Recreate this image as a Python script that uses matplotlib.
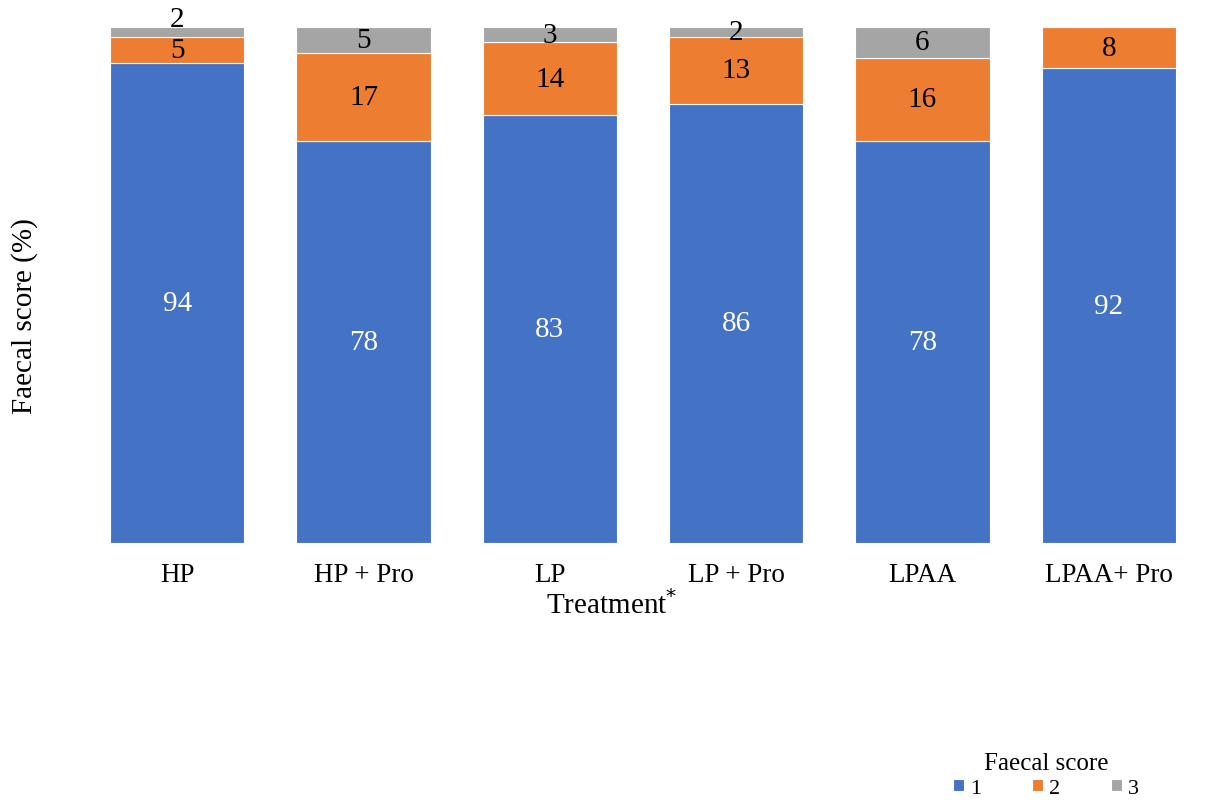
import numpy as np
import matplotlib.pyplot as plt

plt.rcParams['font.family'] = ['Liberation Serif', 'DejaVu Serif']

treatments = ['HP', 'HP + Pro', 'LP', 'LP + Pro', 'LPAA', 'LPAA+ Pro']
score_1 = [94, 78, 83, 86, 78, 92]
score_2 = [5, 17, 14, 13, 16, 8]
score_3 = [2, 5, 3, 2, 6, 0]
score_names = ['1', '2', '3']
colors = ['#4472C4', '#ED7D31', '#A5A5A5']
text_colors = ['white', 'black', 'black']

counts = np.array([score_1, score_2, score_3], dtype=float)
# 100% stacked columns
shares = counts / counts.sum(axis=0) * 100

fig = plt.figure(figsize=(12.05, 8.03), dpi=100)
ax = fig.add_axes([84 / 1205, 1 - 544 / 803, (1202 - 84) / 1205, (544 - 28) / 803])

x = np.arange(len(treatments))
bottom = np.zeros(len(treatments))
last_label = np.full(len(treatments), -100.0)
for i, name in enumerate(score_names):
    bars = ax.bar(x, shares[i], 0.72, bottom=bottom, color=colors[i],
                  edgecolor='white', linewidth=0.8, label=name)
    for j, b in enumerate(bars):
        if counts[i, j] > 0:
            y = bottom[j] + shares[i, j] / 2
            # push a label up when it would sit on top of the one below
            if y - last_label[j] < 4:
                y = last_label[j] + 6
            last_label[j] = y
            ax.text(b.get_x() + b.get_width() / 2, y,
                    f'{counts[i, j]:.0f}', ha='center', va='center',
                    fontsize=21, color=text_colors[i], clip_on=False)
    bottom += shares[i]

ax.set_xlim(-0.5, len(treatments) - 0.5)
ax.set_ylim(0, 100)
ax.set_xticks(x)
ax.set_xticklabels(treatments, fontsize=19.5)
ax.tick_params(axis='x', length=0, pad=14)
ax.set_yticks([])
for s in ax.spines.values():
    s.set_visible(False)

fig.text(612 / 1205, 1 - 605 / 803, r'Treatment$^{*}$', ha='center', va='center', fontsize=21)
fig.text(25 / 1205, 1 - 316 / 803, 'Faecal score (%)', ha='center', va='center',
         rotation=90, fontsize=21)

leg = fig.legend(loc='center', bbox_to_anchor=(1046 / 1205, 1 - 777 / 803), ncol=3,
                 title='Faecal score', frameon=False, fontsize=16, title_fontsize=18,
                 handlelength=0.5, handleheight=0.5, columnspacing=2.3, handletextpad=0.25,
                 borderpad=0.1, labelspacing=0.1)
leg.get_title().set_position((0, 2))

fig.savefig('out.png', dpi=100)
